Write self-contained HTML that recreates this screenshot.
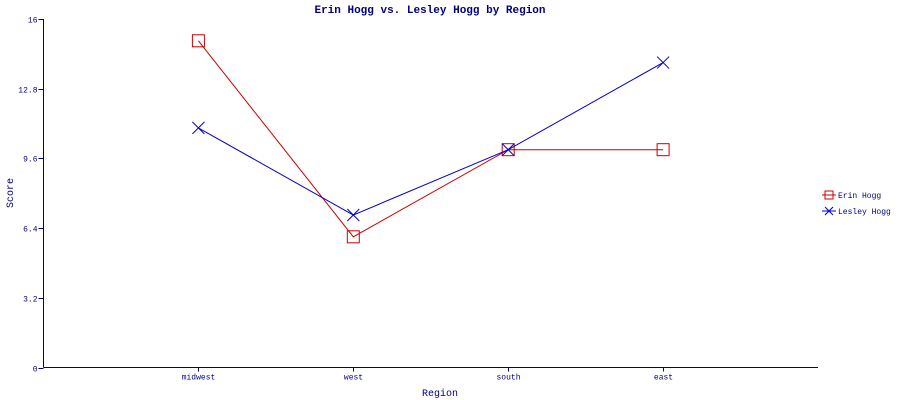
<!DOCTYPE html>
<html><head><meta charset="utf-8"><style>
body{margin:0;background:#fff}
svg{display:block;font-family:"Liberation Mono","DejaVu Sans Mono",monospace}
</style></head><body>
<svg id="chart" width="900" height="400" xmlns="http://www.w3.org/2000/svg">
<text x="430" y="13" text-anchor="middle" font-size="11" font-weight="bold" fill="#000080">Erin Hogg vs. Lesley Hogg by Region</text>
<text x="440" y="396" text-anchor="middle" font-size="10" fill="#000080">Region</text>
<text x="13" y="193" text-anchor="middle" font-size="10" fill="#000080" transform="rotate(-90 13 193)">Score</text>
<g id="axes"></g>
<g id="series"></g>
<g>
 <g>
  <line x1="822" y1="195" x2="836" y2="195" stroke="#cc0000"/>
  <rect x="825" y="191" width="8" height="8" fill="none" stroke="#cc0000"/>
  <text x="838" y="198" font-size="8" fill="#000080">Erin Hogg</text>
 </g>
 <g>
  <line x1="822" y1="211" x2="836" y2="211" stroke="#0000cc"/>
  <path d="M825 207 L833 215 M825 215 L833 207" stroke="#0000cc"/>
  <text x="838" y="214" font-size="8" fill="#000080">Lesley Hogg</text>
 </g>
</g>
</svg>
<script>
const categories = ["midwest","west","south","east"];
const erinValues = [15, 6, 10, 10];
const lesleyValues = [11, 7, 10, 14];
const yTicks = [0, 3.2, 6.4, 9.6, 12.8, 16];
const yTickLabels = ["0","3.2","6.4","9.6","12.8","16"];

const NS="http://www.w3.org/2000/svg";
const X0=43.5, X1=818, Y0=367.5, Y1=19;
const xScale=i=>X0+(i+1)*(X1-X0)/(categories.length+1);
const yScale=v=>Y0-(v-0)/(16-0)*(Y0-Y1);
function mk(tag,attrs,parent){const e=document.createElementNS(NS,tag);for(const k in attrs)e.setAttribute(k,attrs[k]);parent.appendChild(e);return e;}
const axes=document.getElementById('axes');
const ya=mk('line',{x1:X0,y1:Y1,x2:X0,y2:Y0,stroke:'#000080'},axes);


const xa=mk('line',{x1:X0,y1:Y0,x2:X1,y2:Y0,stroke:'#000080'},axes);


yTicks.forEach((v,i)=>{
 const y=Math.round(yScale(v))+0.5;
 mk('line',{x1:X0-5,y1:y,x2:X0,y2:y,stroke:'#000080'},axes);
 const t=mk('text',{x:X0-6,y:y+3,'text-anchor':'end','font-size':8,fill:'#000080'},axes);
 t.textContent=yTickLabels[i];
 
 
});
categories.forEach((c,i)=>{
 const x=Math.round(xScale(i))+0.5;
 mk('line',{x1:x,y1:Y0,x2:x,y2:Y0+4,stroke:'#000080'},axes);
 const t=mk('text',{x:x,y:Y0+12,'text-anchor':'middle','font-size':8,fill:'#000080'},axes);
 t.textContent=c;
 
 
});
const sg=document.getElementById('series');
function drawSeries(vals,color,marker,name){
 const g=mk('g',{},sg);
 
 
 const pts=vals.map((v,i)=>xScale(i)+','+yScale(v)).join(' ');
 mk('polyline',{points:pts,fill:'none',stroke:color},g);
 vals.forEach((v,i)=>{
  const x=xScale(i),y=yScale(v);
  let m;
  if(marker==='square') m=mk('rect',{x:x-6,y:y-6,width:12,height:12,fill:'none',stroke:color},g);
  else m=mk('path',{d:`M${x-6} ${y-6}L${x+6} ${y+6}M${x-6} ${y+6}L${x+6} ${y-6}`,stroke:color},g);
  
  
 });
}
drawSeries(erinValues,'#cc0000','square','erin-hogg-series');
drawSeries(lesleyValues,'#0000cc','x','lesley-hogg-series');
</script>
</body></html>
